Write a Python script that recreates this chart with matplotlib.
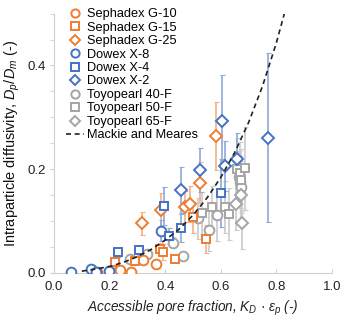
import matplotlib
matplotlib.use("Agg")
import matplotlib.pyplot as plt
from matplotlib.lines import Line2D
import numpy as np

plt.rcParams['font.family'] = ['Liberation Sans', 'DejaVu Sans']
plt.rcParams['mathtext.fontset'] = 'custom'
plt.rcParams['mathtext.rm'] = 'Liberation Sans'
plt.rcParams['mathtext.it'] = 'Liberation Sans:italic'

# ---- data ----
g10_x = [0.155, 0.225, 0.237, 0.276, 0.321, 0.366]
g10_y = [0.001, 0.002, 0.005, 0.001, 0.025, 0.017]
g10_e = [0.002, 0.002, 0.002, 0.002, 0.004, 0.004]

g15_x = [0.218, 0.290, 0.380, 0.392, 0.435, 0.499, 0.547]
g15_y = [0.021, 0.023, 0.046, 0.040, 0.026, 0.107, 0.065]
g15_e = [0.006, 0.005, 0.012, 0.015, 0.004, 0.030, 0.027]

g25_x = [0.315, 0.384, 0.471, 0.489, 0.525, 0.583]
g25_y = [0.095, 0.122, 0.127, 0.132, 0.174, 0.264]
g25_e = [0.022, 0.032, 0.030, 0.035, 0.040, 0.066]

x8_x = [0.062, 0.134, 0.150, 0.198, 0.384]
x8_y = [0.001, 0.007, 0.002, 0.004, 0.081]
x8_e = [0.002, 0.002, 0.002, 0.002, 0.020]

x4_x = [0.231, 0.306, 0.396, 0.414, 0.456, 0.600]
x4_y = [0.039, 0.044, 0.129, 0.071, 0.087, 0.154]
x4_e = [0.008, 0.010, 0.037, 0.015, 0.028, 0.065]

x2_x = [0.456, 0.525, 0.606, 0.615, 0.657, 0.771]
x2_y = [0.159, 0.198, 0.293, 0.206, 0.219, 0.261]
x2_e = [0.045, 0.042, 0.088, 0.048, 0.050, 0.163]

t40_x = [0.273, 0.333, 0.427, 0.465, 0.517, 0.559, 0.585, 0.665, 0.669, 0.673]
t40_y = [0.026, 0.036, 0.058, 0.032, 0.105, 0.082, 0.111, 0.184, 0.175, 0.166]
t40_e = [0.005, 0.005, 0.010, 0.005, 0.040, 0.040, 0.050, 0.050, 0.050, 0.050]

t50_x = [0.532, 0.568, 0.616, 0.630, 0.657, 0.669, 0.673, 0.687]
t50_y = [0.115, 0.127, 0.127, 0.113, 0.201, 0.193, 0.179, 0.202]
t50_e = [0.040, 0.040, 0.050, 0.050, 0.060, 0.060, 0.060, 0.080]

t65_x = [0.655, 0.673, 0.675]
t65_y = [0.133, 0.150, 0.095]
t65_e = [0.050, 0.060, 0.050]

mm_x = [0.10, 0.15, 0.20, 0.25, 0.30, 0.35, 0.40, 0.45, 0.50, 0.55, 0.60, 0.65,
        0.70, 0.75, 0.80, 0.83]
mm_y = [0.003, 0.007, 0.012, 0.020, 0.031, 0.045, 0.063, 0.084, 0.111, 0.144,
        0.184, 0.232, 0.290, 0.360, 0.444, 0.503]

labels = ['Sephadex G-10', 'Sephadex G-15', 'Sephadex G-25',
          'Dowex X-8', 'Dowex X-4', 'Dowex X-2',
          'Toyopearl 40-F', 'Toyopearl 50-F', 'Toyopearl 65-F']
mm_label = 'Mackie and Meares'
xticks = [0.0, 0.2, 0.4, 0.6, 0.8, 1.0]
yticks = [0.0, 0.2, 0.4]

orange, blue, gray = '#ED7D31', '#4472C4', '#A5A5A5'
orange_l, blue_l, gray_l = '#F5B08A', '#8EA9DB', '#CBCBCB'

series = [
    (g10_x, g10_y, g10_e, 'o', orange, orange_l, 7.0),
    (g15_x, g15_y, g15_e, 's', orange, orange_l, 6.3),
    (g25_x, g25_y, g25_e, 'D', orange, orange_l, 5.8),
    (x8_x, x8_y, x8_e, 'o', blue, blue_l, 7.0),
    (x4_x, x4_y, x4_e, 's', blue, blue_l, 6.3),
    (x2_x, x2_y, x2_e, 'D', blue, blue_l, 5.8),
    (t40_x, t40_y, t40_e, 'o', gray, gray_l, 7.0),
    (t50_x, t50_y, t50_e, 's', gray, gray_l, 6.3),
    (t65_x, t65_y, t65_e, 'D', gray, gray_l, 5.8),
]

W, H = 341, 322
fig = plt.figure(figsize=(W/100, H/100), dpi=100)
ax = fig.add_axes([54/W, 1-272.7/H, 278/W, 259/H])

order = [6, 7, 8, 0, 1, 2, 3, 4, 5]
for i in order:
    x, y, e, m, c, cl, ms = series[i]
    ax.errorbar(x, y, yerr=e, fmt='none', ecolor=cl, elinewidth=1.2,
                capsize=1.8, capthick=0.8, zorder=2)

for i in order:
    x, y, e, m, c, cl, ms = series[i]
    ax.plot(x, y, linestyle='none', marker=m, markersize=ms,
            markerfacecolor='white', markeredgecolor=c, markeredgewidth=1.4,
            zorder=3)

dash = (0, (3, 2.2))
ax.plot(mm_x, mm_y, linestyle=dash, color='#222222', lw=1.2, zorder=4)

handles = []
for i in range(9):
    x, y, e, m, c, cl, ms = series[i]
    handles.append(Line2D([], [], linestyle='none', marker=m,
                          markersize=ms*0.85, markerfacecolor='white',
                          markeredgecolor=c, markeredgewidth=1.4,
                          label=labels[i]))
handles.append(Line2D([], [], linestyle=dash, color='#222222', lw=1.2,
                      label=mm_label))

ax.set_xlim(0, 1.0)
ax.set_ylim(0, 0.5)
ax.set_xticks(xticks)
ax.set_xticklabels([f'{v:.1f}' for v in xticks])
ax.set_yticks(yticks)
ax.set_yticklabels([f'{v:.1f}' for v in yticks])
ax.set_yticks(np.arange(0, 0.5001, 0.05), minor=True)

for s in ['top', 'right']:
    ax.spines[s].set_visible(False)
for s in ['left', 'bottom']:
    ax.spines[s].set_color('#D0D0D0')
    ax.spines[s].set_linewidth(0.8)

ax.tick_params(axis='both', which='both', color='#D0D0D0', labelsize=9.5,
               labelcolor='#222222')
ax.tick_params(axis='x', which='major', direction='in', length=3, pad=6)
ax.tick_params(axis='y', which='major', direction='out', length=3, pad=3)
ax.tick_params(axis='y', which='minor', direction='out', length=3)

xl = ax.set_xlabel('Accessible pore fraction, $K_D$ · $ε_p$ (-)', fontsize=10,
                   style='italic', color='#222222', labelpad=4)
yl = ax.set_ylabel('Intraparticle diffusivity, $D_p$/$D_m$ (-)', fontsize=10,
                   color='#111111', labelpad=4)

def make_legend(fs, ls):
    return ax.legend(handles=handles, loc='upper left',
                     bbox_to_anchor=(66/W, 1-8/H), bbox_transform=fig.transFigure,
                     frameon=False, fontsize=fs, handlelength=1.4,
                     handletextpad=0.25, labelspacing=ls, borderpad=0,
                     borderaxespad=0)

# fit text sizes to the reference's measured extents (pixels)
r = fig.canvas.get_renderer()
for _ in range(2):
    w = xl.get_window_extent(r).width
    xl.set_fontsize(xl.get_fontsize() * 213.0 / w)
    h = yl.get_window_extent(r).height
    yl.set_fontsize(yl.get_fontsize() * 207.0 / h)

fs, ls = 9.0, 0.1
for _ in range(4):
    leg = make_legend(fs, ls)
    fig.canvas.draw()
    texts = leg.get_texts()
    w = texts[-1].get_window_extent(r).width
    fs = fs * 111.0 / w
    leg = make_legend(fs, ls)
    fig.canvas.draw()
    texts = leg.get_texts()
    y0 = texts[0].get_window_extent(r)
    y1 = texts[-1].get_window_extent(r)
    span = (y0.y0 + y0.y1) / 2 - (y1.y0 + y1.y1) / 2
    target = 13.5 * 9
    ls = ls + (target - span) / 9 / (fs * 100 / 72)

leg = make_legend(fs, ls)
fig.canvas.draw()

fig.savefig('out.png', dpi=100)
